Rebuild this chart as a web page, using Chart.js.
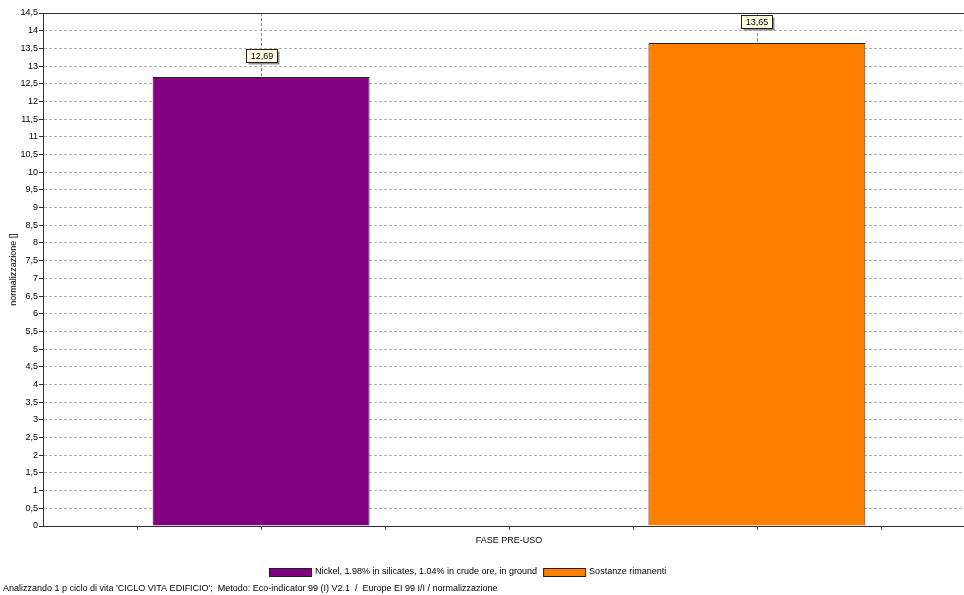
<!DOCTYPE html>
<html>
<head>
<meta charset="utf-8">
<script src="https://cdn.jsdelivr.net/npm/chart.js@4.4.0/dist/chart.umd.min.js"></script>
<style>
html, body { margin: 0; padding: 0; background: #fff; overflow: hidden; }
</style>
</head>
<body>
<canvas id="myBarChart" width="976" height="595"></canvas>
<script>
const categories = ['FASE PRE-USO'];
const seriesNames = ['Nickel, 1.98% in silicates, 1.04% in crude ore, in ground', 'Sostanze rimanenti'];
const nickelValues = [12.69];
const restValues = [13.65];
const yTicks = { min: 0, max: 14.5, step: 0.5 };
const yTitle = 'normalizzazione []';
const footerText = "Analizzando 1 p ciclo di vita 'CICLO VITA EDIFICIO';  Metodo: Eco-indicator 99 (I) V2.1  /  Europe EI 99 I/I / normalizzazione";

const FONT = '"Liberation Sans", Arial, sans-serif';
const FSIZE = 9;
const comma = v => String(v).replace('.', ',');

// linee, etichette, legenda e piè di pagina
const decorations = {
    id: 'decorations',
    beforeDatasetsDraw(chart) {
        const ctx = chart.ctx;
        const top = chart.chartArea.top;
        ctx.save();
        ctx.strokeStyle = '#909090';
        ctx.lineWidth = 1;
        ctx.setLineDash([3, 2]);
        chart.data.datasets.forEach((ds, i) => {
            const bar = chart.getDatasetMeta(i).data[0];
            const x = Math.round(bar.x) + 0.5;
            ctx.beginPath();
            ctx.moveTo(x, top);
            ctx.lineTo(x, bar.y);
            ctx.stroke();
        });
        ctx.restore();
    },
    afterDraw(chart) {
        const ctx = chart.ctx;
        const area = chart.chartArea;
        ctx.save();

        // bordo superiore
        ctx.strokeStyle = '#303030';
        ctx.lineWidth = 1;
        ctx.beginPath();
        ctx.moveTo(area.left, area.top + 0.5);
        ctx.lineTo(area.right, area.top + 0.5);
        ctx.stroke();

        // tacche asse x
        const b0 = chart.getDatasetMeta(0).data[0];
        const b1 = chart.getDatasetMeta(1).data[0];
        const c = (b0.x + b1.x) / 2;
        const step = (b1.x - b0.x) / 4;
        ctx.strokeStyle = '#606060';
        for (let k = -3; k <= 3; k++) {
            const x = Math.round(c + k * step) + 0.5;
            ctx.beginPath();
            ctx.moveTo(x, area.bottom);
            ctx.lineTo(x, area.bottom + 4);
            ctx.stroke();
        }

        // etichette valori
        ctx.font = FSIZE + 'px ' + FONT;
        ctx.textAlign = 'center';
        ctx.textBaseline = 'middle';
        chart.data.datasets.forEach((ds, i) => {
            const bar = chart.getDatasetMeta(i).data[0];
            const txt = ds.data[0].toFixed(2).replace('.', ',');
            const w = Math.round(ctx.measureText(txt).width) + 8;
            const h = 13;
            const x = Math.round(bar.x - w / 2) + 0.5;
            const y = Math.round(bar.y - 15 - h) + 0.5;
            ctx.fillStyle = '#909090';
            ctx.fillRect(x + 2, y + 2, w, h);
            ctx.fillStyle = '#FFFFE1';
            ctx.fillRect(x, y, w, h);
            ctx.strokeStyle = '#202020';
            ctx.strokeRect(x, y, w, h);
            ctx.fillStyle = '#000';
            ctx.fillText(txt, x + w / 2, y + h / 2 + 0.5);
        });

        // legenda
        ctx.textAlign = 'left';
        const boxW = 42, boxH = 8, gap = 4, sep = 6;
        const items = chart.data.datasets.map(ds => ({
            label: ds.label, color: ds.backgroundColor,
            w: boxW + gap + ctx.measureText(ds.label).width
        }));
        const total = items.reduce((s, it) => s + it.w, 0) + sep * (items.length - 1);
        let lx = Math.round(468 - total / 2);
        const ly = 572;
        items.forEach(it => {
            ctx.fillStyle = it.color;
            ctx.fillRect(lx, ly - 4, boxW, boxH);
            ctx.strokeStyle = '#202020';
            ctx.strokeRect(lx + 0.5, ly - 3.5, boxW, boxH);
            ctx.fillStyle = '#000';
            ctx.fillText(it.label, lx + boxW + gap, ly);
            lx += it.w + sep;
        });

        // piè di pagina
        ctx.fillText(footerText, 3, 589);
        ctx.restore();
    }
};

const data = {
    labels: categories,
    datasets: [{
        label: seriesNames[0],
        data: nickelValues,
        backgroundColor: '#800080',
        borderColor: '#202020',
        borderWidth: 1
    }, {
        label: seriesNames[1],
        data: restValues,
        backgroundColor: '#FF8000',
        borderColor: '#202020',
        borderWidth: 1
    }]
};

const config = {
    type: 'bar',
    data: data,
    options: {
        responsive: false,
        animation: false,
        categoryPercentage: 1.064,
        barPercentage: 0.4375,
        layout: { padding: { top: 13, right: 1, left: 0, bottom: 0 } },
        plugins: {
            legend: { display: false },
            tooltip: { enabled: false }
        },
        scales: {
            x: {
                grid: { display: false },
                border: { display: true, color: '#303030', width: 1 },
                ticks: { color: '#000', font: { family: FONT, size: FSIZE }, padding: 1 },
                afterFit: scale => { scale.height = 69; }
            },
            y: {
                min: yTicks.min,
                max: yTicks.max,
                ticks: {
                    stepSize: yTicks.step,
                    color: '#000',
                    font: { family: FONT, size: FSIZE },
                    padding: 1,
                    callback: v => comma(v)
                },
                grid: {
                    color: '#b0b0b0',
                    tickColor: '#303030',
                    tickLength: 4,
                    tickBorderDash: []
                },
                border: { display: true, color: '#303030', width: 1, dash: [3, 2] },
                title: {
                    display: true,
                    text: yTitle,
                    color: '#000',
                    font: { family: FONT, size: FSIZE },
                    padding: { top: 8, bottom: 0 }
                },
                afterFit: scale => { scale.width = 43; }
            }
        }
    },
    plugins: [decorations]
};

const myBarChart = new Chart(document.getElementById('myBarChart').getContext('2d'), config);
</script>
</body>
</html>
